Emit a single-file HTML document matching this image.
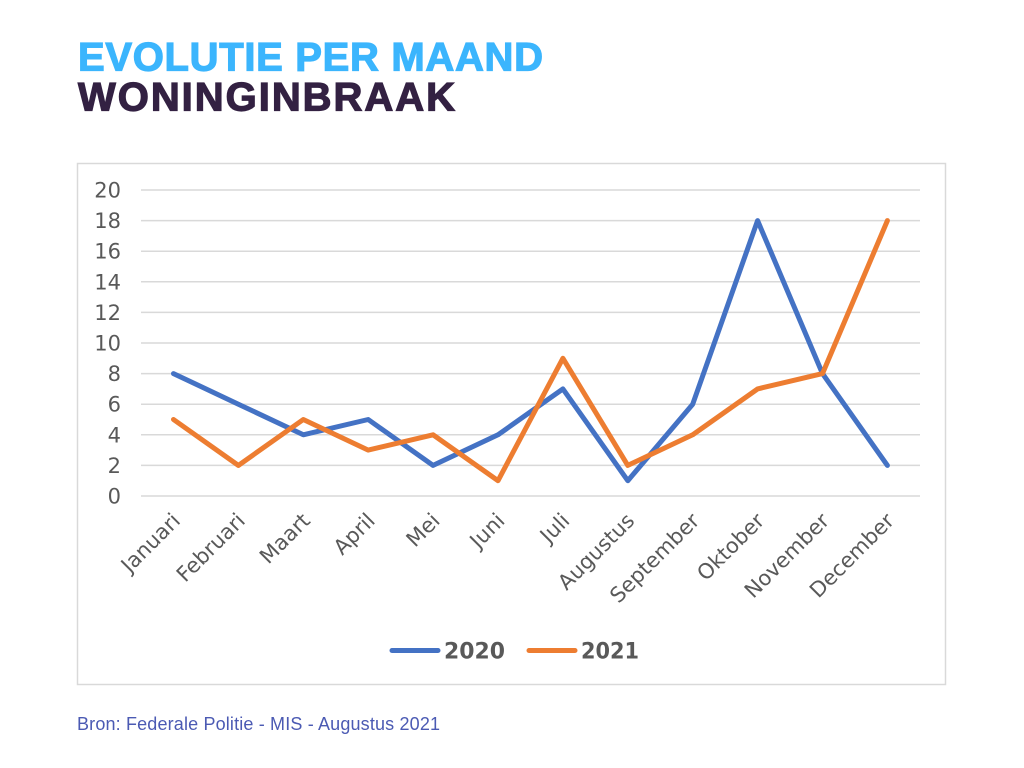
<!DOCTYPE html>
<html>
<head>
<meta charset="utf-8">
<style>
  html,body{margin:0;padding:0;background:#fff;}
  svg{display:block;}
</style>
</head>
<body>
<svg width="1024" height="768" viewBox="0 0 1024 768" xmlns="http://www.w3.org/2000/svg">
  <rect x="0" y="0" width="1024" height="768" fill="#ffffff"/>
  <!-- Title -->
  <text x="78" y="70.5" font-family="Liberation Sans, sans-serif" font-weight="bold" font-size="40" fill="#3bb5fd" stroke="#3bb5fd" stroke-width="1.2" textLength="465" lengthAdjust="spacing">EVOLUTIE PER MAAND</text>
  <text x="78" y="110.5" font-family="Liberation Sans, sans-serif" font-weight="bold" font-size="40" fill="#332142" stroke="#332142" stroke-width="1.2" textLength="377" lengthAdjust="spacing">WONINGINBRAAK</text>

  <!-- Chart box -->
  <rect x="77.5" y="163.5" width="868" height="521" fill="#ffffff" stroke="#d9d9d9" stroke-width="1.5"/>

  <!-- Gridlines -->
  <g stroke="#d9d9d9" stroke-width="1.5">
    <line x1="141" y1="190" x2="920" y2="190"/>
    <line x1="141" y1="220.6" x2="920" y2="220.6"/>
    <line x1="141" y1="251.2" x2="920" y2="251.2"/>
    <line x1="141" y1="281.8" x2="920" y2="281.8"/>
    <line x1="141" y1="312.4" x2="920" y2="312.4"/>
    <line x1="141" y1="343" x2="920" y2="343"/>
    <line x1="141" y1="373.6" x2="920" y2="373.6"/>
    <line x1="141" y1="404.2" x2="920" y2="404.2"/>
    <line x1="141" y1="434.8" x2="920" y2="434.8"/>
    <line x1="141" y1="465.4" x2="920" y2="465.4"/>
    <line x1="141" y1="496" x2="920" y2="496"/>
  </g>

  <!-- Y tick labels -->
  <g font-family="DejaVu Sans, Liberation Sans, sans-serif" font-size="21" fill="#595959" text-anchor="end">
    <text x="121" y="197.5">20</text>
    <text x="121" y="228.1">18</text>
    <text x="121" y="258.7">16</text>
    <text x="121" y="289.3">14</text>
    <text x="121" y="319.9">12</text>
    <text x="121" y="350.5">10</text>
    <text x="121" y="381.1">8</text>
    <text x="121" y="411.7">6</text>
    <text x="121" y="442.3">4</text>
    <text x="121" y="472.9">2</text>
    <text x="121" y="503.5">0</text>
  </g>

  <!-- X labels -->
  <g font-family="DejaVu Sans, Liberation Sans, sans-serif" font-size="21" fill="#595959" text-anchor="end">
    <text transform="translate(181.5,522) rotate(-45)">Januari</text>
    <text transform="translate(246.4,522) rotate(-45)">Februari</text>
    <text transform="translate(311.3,522) rotate(-45)">Maart</text>
    <text transform="translate(376.2,522) rotate(-45)">April</text>
    <text transform="translate(441.1,522) rotate(-45)">Mei</text>
    <text transform="translate(506,522) rotate(-45)">Juni</text>
    <text transform="translate(570.9,522) rotate(-45)">Juli</text>
    <text transform="translate(635.8,522) rotate(-45)">Augustus</text>
    <text transform="translate(700.7,522) rotate(-45)">September</text>
    <text transform="translate(765.6,522) rotate(-45)">Oktober</text>
    <text transform="translate(830.5,522) rotate(-45)">November</text>
    <text transform="translate(895.4,522) rotate(-45)">December</text>
  </g>

  <!-- Series -->
  <polyline fill="none" stroke="#4472c4" stroke-width="5" stroke-linejoin="round" stroke-linecap="round"
    points="173.5,373.6 238.4,404.2 303.3,434.8 368.2,419.5 433.1,465.4 498,434.8 562.9,388.9 627.8,480.7 692.7,404.2 757.6,220.6 822.5,373.6 887.4,465.4"/>
  <polyline fill="none" stroke="#ed7d31" stroke-width="5" stroke-linejoin="round" stroke-linecap="round"
    points="173.5,419.5 238.4,465.4 303.3,419.5 368.2,450.1 433.1,434.8 498,480.7 562.9,358.3 627.8,465.4 692.7,434.8 757.6,388.9 822.5,373.6 887.4,220.6"/>

  <!-- Legend -->
  <line x1="392" y1="650.5" x2="438" y2="650.5" stroke="#4472c4" stroke-width="5" stroke-linecap="round"/>
  <text x="444" y="658.5" font-family="DejaVu Sans, Liberation Sans, sans-serif" font-weight="bold" font-size="22" fill="#595959" textLength="61" lengthAdjust="spacingAndGlyphs">2020</text>
  <line x1="529" y1="650.5" x2="575" y2="650.5" stroke="#ed7d31" stroke-width="5" stroke-linecap="round"/>
  <text x="581" y="658.5" font-family="DejaVu Sans, Liberation Sans, sans-serif" font-weight="bold" font-size="22" fill="#595959" textLength="58" lengthAdjust="spacingAndGlyphs">2021</text>

  <!-- Source -->
  <text x="77" y="730" font-family="Liberation Sans, sans-serif" font-size="18" fill="#4b5ab3" textLength="363" lengthAdjust="spacing">Bron: Federale Politie - MIS - Augustus 2021</text>
</svg>
</body>
</html>
